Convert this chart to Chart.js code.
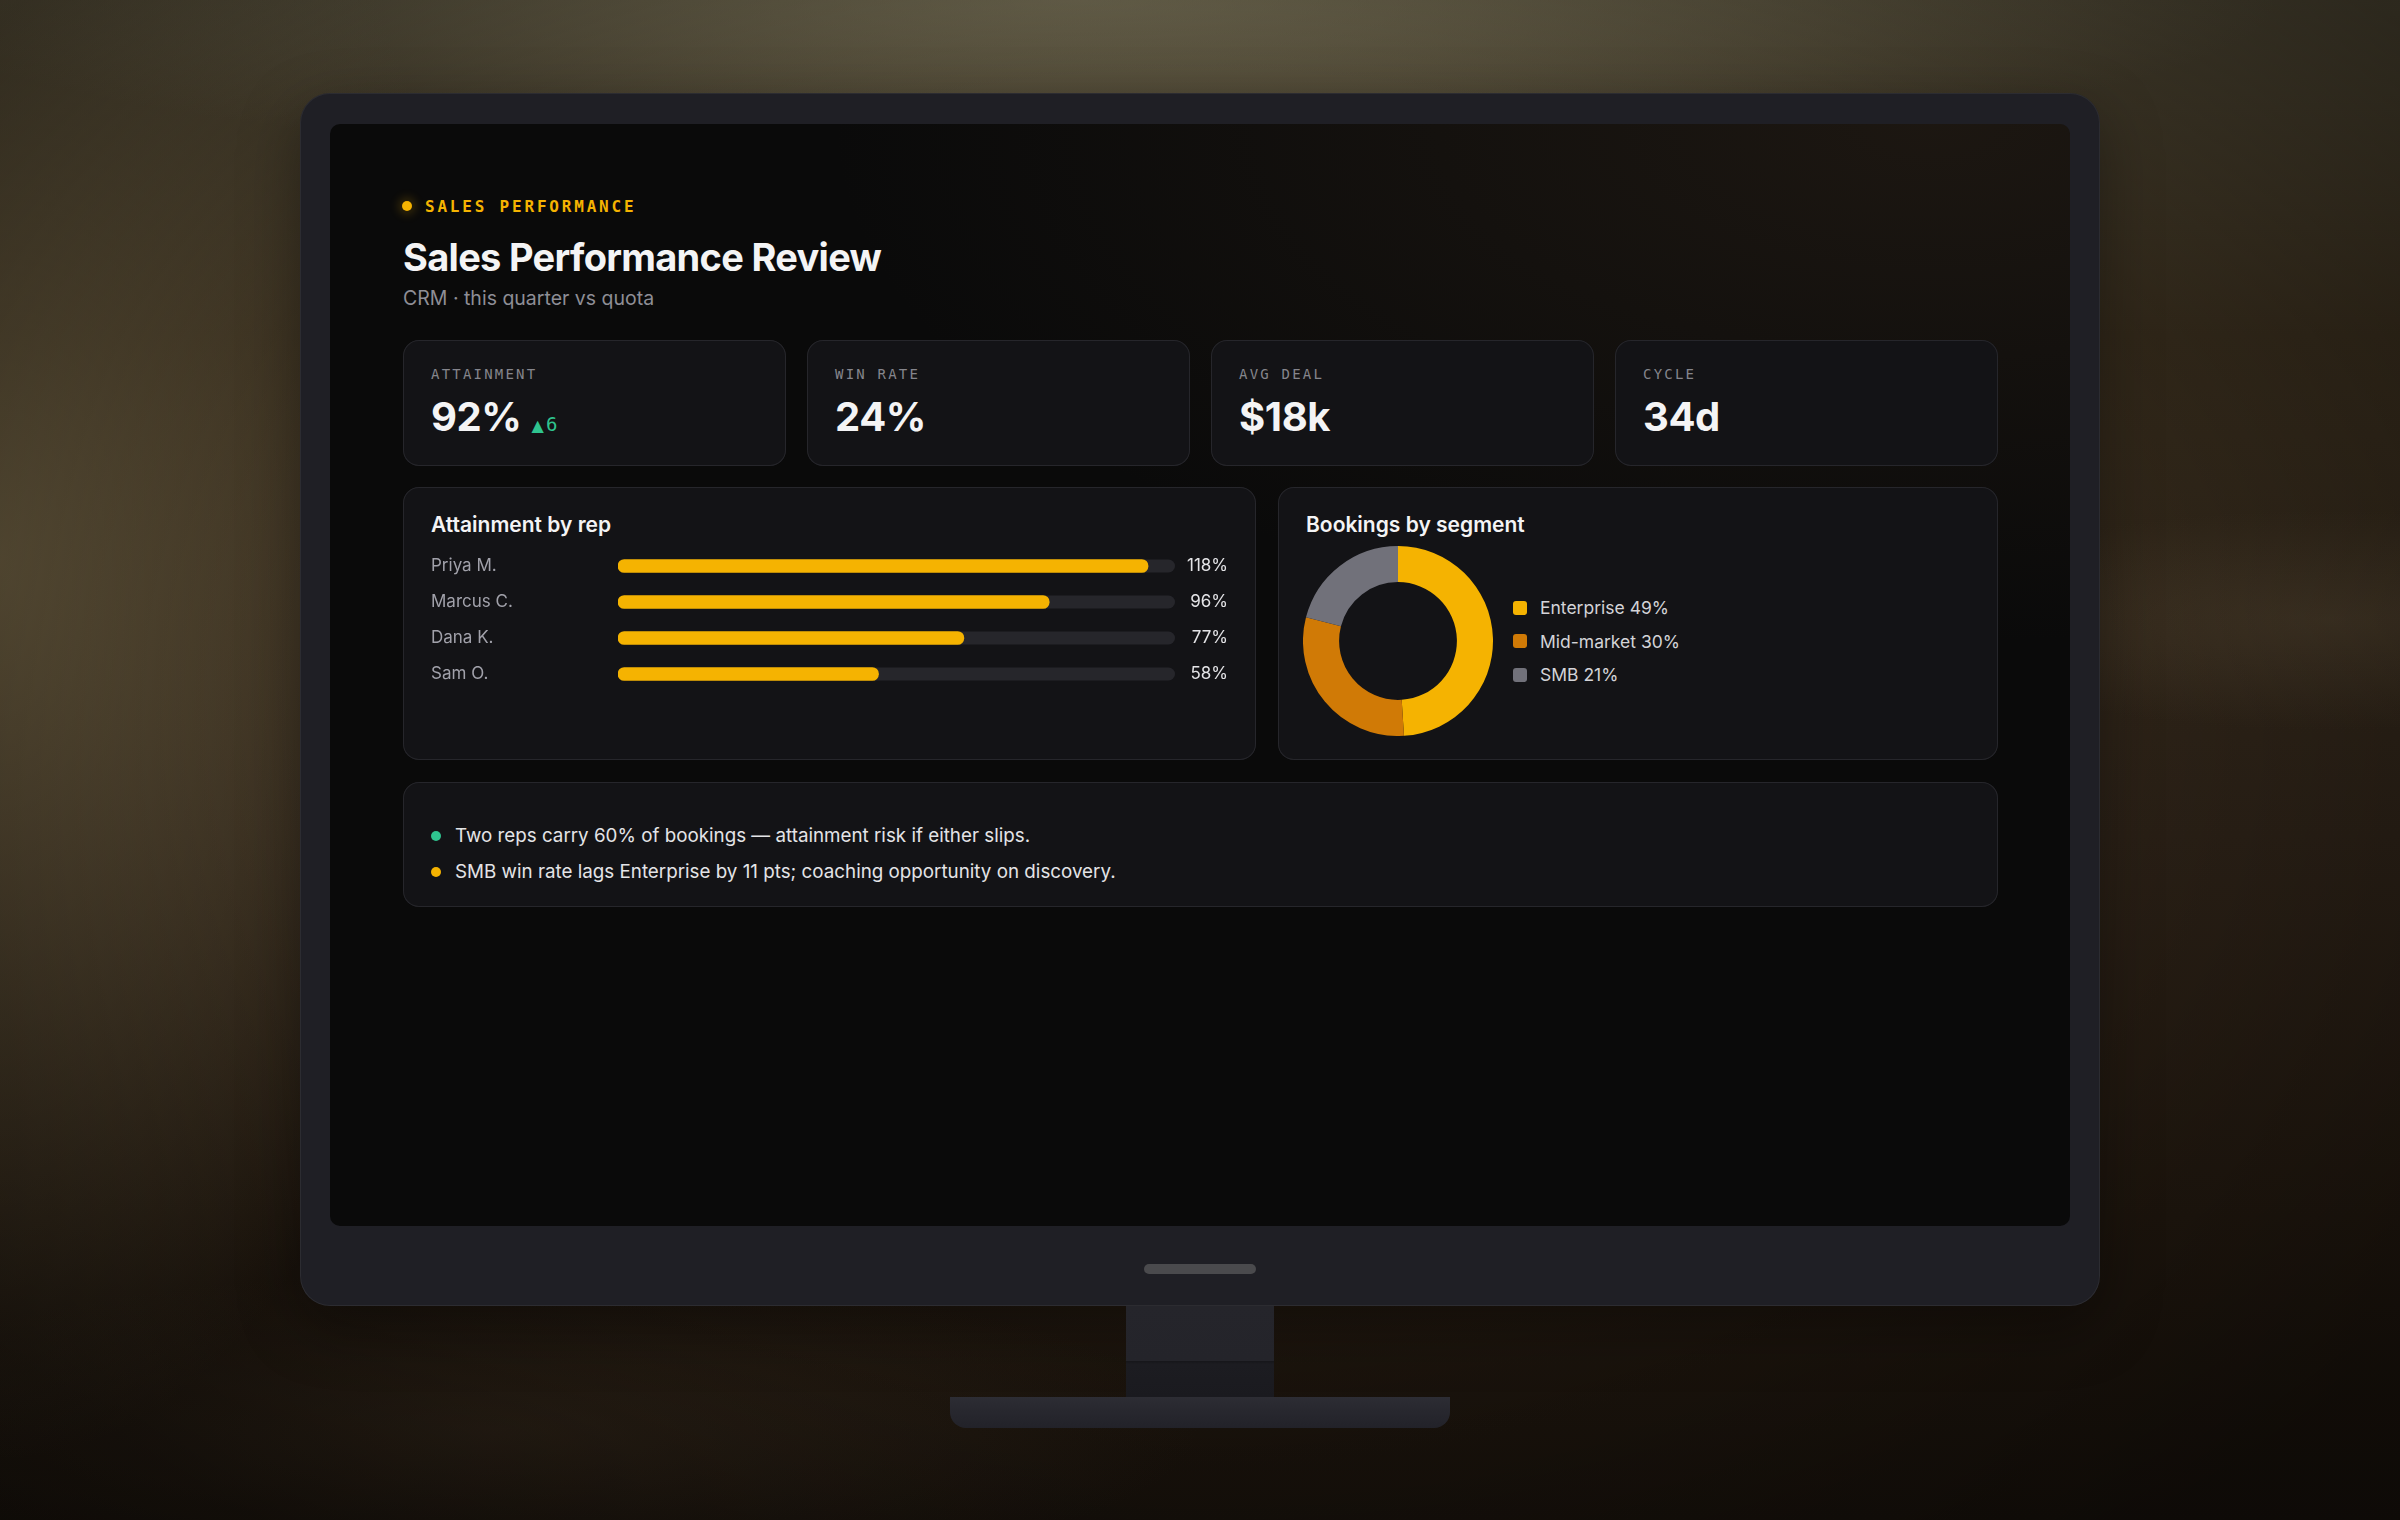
<!DOCTYPE html>
<html>
<head>
<meta charset="utf-8">
<script src="https://cdn.jsdelivr.net/npm/chart.js@4.4.1/dist/chart.umd.min.js"></script>
<style>
  html, body { margin: 0; padding: 0; }
  body {
    width: 2400px; height: 1520px; overflow: hidden; position: relative;
    font-family: Inter, "Noto Sans", sans-serif;
    background:
      radial-gradient(ellipse 1200px 170px at 45% 0px, rgba(125,120,95,0.55), rgba(0,0,0,0) 100%),
      radial-gradient(ellipse 480px 900px at 0px 560px, rgba(105,92,64,0.85), rgba(0,0,0,0) 100%),
      radial-gradient(ellipse 420px 110px at 2330px 620px, rgba(95,80,58,0.35), rgba(0,0,0,0) 100%),
      radial-gradient(ellipse 700px 160px at 500px 1430px, rgba(70,55,38,0.35), rgba(0,0,0,0) 100%),
      linear-gradient(180deg, #4a4331 0%, #342a1b 22%, #2a2016 55%, #21180f 80%, #17110b 100%);
  }
  .vignette { position: absolute; inset: 0;
    background: radial-gradient(ellipse 1550px 1050px at 50% 45%, rgba(0,0,0,0) 58%, rgba(0,0,0,0.4) 100%); }
  .abs { position: absolute; }
  .bezel { left: 300px; top: 93px; width: 1800px; height: 1213px; border-radius: 30px;
    background: #1f1f25; box-shadow: inset 0 0 0 1px rgba(255,255,255,0.06), 0 20px 60px rgba(0,0,0,0.35); }
  .screen { left: 330px; top: 124px; width: 1740px; height: 1102px; border-radius: 10px; background: #0a0a0a; overflow: hidden; }
  .screen::after { content: ""; position: absolute; inset: 0;
    background: radial-gradient(ellipse 1100px 520px at 92% 0%, rgba(70,52,34,0.30), rgba(0,0,0,0) 100%); }
  .pill { left: 1144px; top: 1264px; width: 112px; height: 10px; border-radius: 5px; background: #4a4a4d; }
  .neck { left: 1126px; top: 1306px; width: 148px; height: 91px;
    background: linear-gradient(180deg, #25252b 0%, #24242a 60%, #17171b 61%, #1c1c21 64%, #1a1a1f 100%); }
  .base { left: 950px; top: 1397px; width: 500px; height: 31px; border-radius: 0 0 16px 16px;
    background: linear-gradient(180deg, #2d2d34 0%, #28282f 40%, #222229 100%); }

  .eyedot { left: 402px; top: 201px; width: 10px; height: 10px; border-radius: 50%; background: #f5b301;
    box-shadow: 0 0 10px 4px rgba(245,179,1,0.18); }
  .eyebrow { left: 425px; top: 198.5px; font: 700 16px/1 "DejaVu Sans Mono", monospace; letter-spacing: 2.8px; color: #f5b301; white-space: nowrap; }
  .title { left: 403px; top: 237.5px; font: 700 38px/1 Inter, sans-serif; letter-spacing: -0.7px; color: #f4f4f5; white-space: nowrap; }
  .subtitle { left: 403px; top: 289px; font: 400 19.5px/1 Inter, sans-serif; color: #8e8e96; white-space: nowrap; }

  .card { background: #131316; border-radius: 16px; box-shadow: inset 0 0 0 1px #26262b; }
  .kpi { top: 340px; width: 383px; height: 126px; }
  .kpi-label { top: 27px; left: 28px; font: 400 14px/1 "DejaVu Sans Mono", monospace; letter-spacing: 2.2px; color: #85858c; white-space: nowrap; position: absolute; }
  .kpi-value { top: 57.4px; left: 28px; font: 700 40px/1 Inter, sans-serif; letter-spacing: -0.4px; color: #f4f4f5; white-space: nowrap; position: absolute; }
  .kpi-delta { font: 400 19px/1 "DejaVu Sans Mono", monospace; color: #2fc48f; margin-left: 10px; letter-spacing: 0px; }
  .kpi-delta .tri { font: 400 16px/1 "DejaVu Sans", sans-serif; margin-right: 2px; }

  .panel-title { font: 600 21px/1 Inter, sans-serif; color: #f4f4f5; white-space: nowrap; position: absolute; }
  .legend { left: 1513px; top: 591px; }
  .legend-row { display: flex; align-items: center; height: 33.5px; font: 400 17.5px/1 Inter, sans-serif; color: #d4d4d8; white-space: nowrap; }
  .legend-sw { width: 14px; height: 14px; border-radius: 3px; margin-right: 13px; }

  .insight { left: 431px; display: flex; align-items: center; height: 36px; font: 400 18.8px/1 Inter, sans-serif; color: #e4e4e7; white-space: nowrap; }
  .insight .dot { width: 10px; height: 10px; border-radius: 50%; margin-right: 14px; }
</style>
</head>
<body>
<div class="vignette"></div>
<div class="abs bezel"></div>
<div class="abs screen"></div>
<div class="abs pill"></div>
<div class="abs neck"></div>
<div class="abs base"></div>

<div class="abs eyedot"></div>
<div class="abs eyebrow">SALES PERFORMANCE</div>
<div class="abs title">Sales Performance Review</div>
<div class="abs subtitle">CRM · this quarter vs quota</div>

<div id="kpis"></div>

<div class="abs card" style="left:403px; top:487px; width:853px; height:273px;"></div>
<div class="panel-title" style="left:431px; top:513.5px;">Attainment by rep</div>
<canvas id="bars" class="abs" width="797" height="144" style="left:431px; top:548px;"></canvas>

<div class="abs card" style="left:1278px; top:487px; width:720px; height:273px;"></div>
<div class="panel-title" style="left:1306px; top:513.5px;">Bookings by segment</div>
<canvas id="donut" class="abs" width="190" height="190" style="left:1303px; top:546px;"></canvas>
<div class="abs legend" id="legend"></div>

<div class="abs card" style="left:403px; top:782px; width:1595px; height:125px;"></div>
<div id="insights"></div>

<script>
// ---------- data ----------
const kpiLabels = ['ATTAINMENT', 'WIN RATE', 'AVG DEAL', 'CYCLE'];
const kpiValues = ['92%', '24%', '$18k', '34d'];
const kpiDeltas = ['6', '', '', ''];

const reps = ['Priya M.', 'Marcus C.', 'Dana K.', 'Sam O.'];
const attainment = [118, 96, 77, 58];
const attainmentLabels = ['118%', '96%', '77%', '58%'];
const attainmentAxisMax = 124;

const segments = ['Enterprise', 'Mid-market', 'SMB'];
const segmentShare = [49, 30, 21];

const insights = [
  'Two reps carry 60% of bookings — attainment risk if either slips.',
  'SMB win rate lags Enterprise by 11 pts; coaching opportunity on discovery.'
];

// ---------- styles ----------
const YELLOW = '#f5b301', ORANGE = '#d07a06', GRAY = '#71717a', GREEN = '#2fc48f', TRACK = '#26262b';
const segmentColors = [YELLOW, ORANGE, GRAY];
const insightColors = [GREEN, YELLOW];
const kpiLefts = [403, 807, 1211, 1615];

// KPI cards
const kpiWrap = document.getElementById('kpis');
kpiLabels.forEach((lab, i) => {
  const c = document.createElement('div');
  c.className = 'abs card kpi';
  c.style.left = kpiLefts[i] + 'px';
  const l = document.createElement('div'); l.className = 'kpi-label'; l.textContent = lab;
  const v = document.createElement('div'); v.className = 'kpi-value'; v.textContent = kpiValues[i];
  if (kpiDeltas[i]) {
    const d = document.createElement('span'); d.className = 'kpi-delta';
    const t = document.createElement('span'); t.className = 'tri'; t.textContent = '▲';
    d.appendChild(t); d.appendChild(document.createTextNode(kpiDeltas[i]));
    v.appendChild(d);
  }
  c.appendChild(l); c.appendChild(v); kpiWrap.appendChild(c);
});

// Legend
const lg = document.getElementById('legend');
segments.forEach((s, i) => {
  const r = document.createElement('div'); r.className = 'legend-row';
  const sw = document.createElement('span'); sw.className = 'legend-sw'; sw.style.background = segmentColors[i];
  const t = document.createElement('span'); t.textContent = s + ' ' + segmentShare[i] + '%';
  r.appendChild(sw); r.appendChild(t); lg.appendChild(r);
});

// Insights
const iw = document.getElementById('insights');
insights.forEach((txt, i) => {
  const r = document.createElement('div'); r.className = 'abs insight';
  r.style.top = (818 + i * 36) + 'px';
  const d = document.createElement('span'); d.className = 'dot'; d.style.background = insightColors[i];
  const t = document.createElement('span'); t.textContent = txt;
  r.appendChild(d); r.appendChild(t); iw.appendChild(r);
});

// ---------- charts ----------
Chart.defaults.font.family = 'Inter, sans-serif';

function widest(labels, font) {
  const c = document.createElement('canvas').getContext('2d');
  c.font = font;
  return Math.max(...labels.map(l => c.measureText(l).width));
}
const LEFT_AXIS_W = 187, RIGHT_AXIS_W = 53;
const LABEL_FONT = 17;
const padL = LEFT_AXIS_W - widest(reps, '400 ' + LABEL_FONT + 'px Inter');
const padR = RIGHT_AXIS_W - widest(attainmentLabels, '400 ' + LABEL_FONT + 'px Inter');

function fixAxis(width) {
  return s => { s.width = width; s.paddingTop = 0; s.paddingBottom = 0; };
}

const trackPlugin = {
  id: 'track',
  beforeDatasetsDraw(chart) {
    const { ctx, scales: { x } } = chart;
    const meta = chart.getDatasetMeta(0);
    ctx.save();
    ctx.fillStyle = TRACK;
    meta.data.forEach(bar => {
      const h = bar.height, y0 = bar.y - h / 2, w = x.right - x.left, r = h / 2;
      ctx.beginPath();
      ctx.moveTo(x.left + r, y0);
      ctx.lineTo(x.left + w - r, y0);
      ctx.arc(x.left + w - r, y0 + r, r, -Math.PI / 2, Math.PI / 2);
      ctx.lineTo(x.left + r, y0 + h);
      ctx.arc(x.left + r, y0 + r, r, Math.PI / 2, Math.PI * 1.5);
      ctx.closePath();
      ctx.fill();
    });
    ctx.restore();
  }
};

new Chart(document.getElementById('bars'), {
  type: 'bar',
  data: {
    labels: reps,
    datasets: [{
      data: attainment, backgroundColor: YELLOW, borderRadius: 7, borderSkipped: false,
      barThickness: 13, yAxisID: 'y', xAxisID: 'x'
    }]
  },
  options: {
    indexAxis: 'y', responsive: false, animation: false, maintainAspectRatio: false,
    layout: { padding: 0 },
    events: [],
    plugins: { legend: { display: false }, tooltip: { enabled: false } },
    scales: {
      x: { display: false, min: 0, max: attainmentAxisMax },
      y: {
        position: 'left', offset: true,
        grid: { display: false, drawTicks: false }, border: { display: false },
        ticks: { color: '#a1a1aa', font: { size: LABEL_FONT }, crossAlign: 'far', padding: padL },
        afterFit: fixAxis(LEFT_AXIS_W)
      },
      y2: {
        type: 'category', labels: attainmentLabels, position: 'right', offset: true,
        grid: { display: false, drawTicks: false }, border: { display: false },
        ticks: { color: '#e4e4e7', font: { size: LABEL_FONT }, crossAlign: 'far', padding: padR },
        afterFit: fixAxis(RIGHT_AXIS_W)
      }
    }
  },
  plugins: [trackPlugin]
});

new Chart(document.getElementById('donut'), {
  type: 'doughnut',
  data: {
    labels: segments,
    datasets: [{ data: segmentShare, backgroundColor: segmentColors, borderWidth: 0 }]
  },
  options: {
    responsive: false, animation: false, cutout: '62%', events: [],
    layout: { padding: 0 },
    plugins: { legend: { display: false }, tooltip: { enabled: false } }
  }
});
</script>
</body>
</html>
